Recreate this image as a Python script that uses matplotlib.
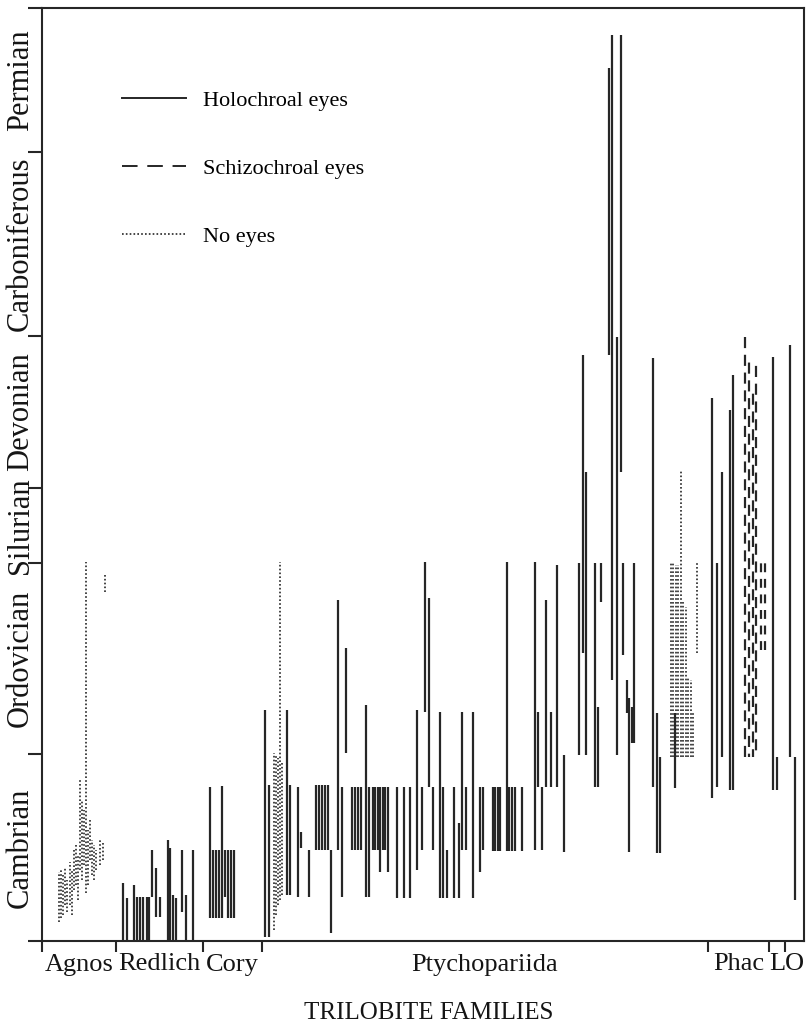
import matplotlib
matplotlib.use("Agg")
import matplotlib.pyplot as plt
from matplotlib.lines import Line2D

# Stratigraphic scale: height units above the base of the Cambrian
PERIODS = ["Cambrian", "Ordovician", "Silurian", "Devonian", "Carboniferous", "Permian"]
PERIOD_BOUNDS = [0, 187, 378, 453, 605, 789, 933]

# Family groups along the horizontal axis (column positions)
GROUPS = ["Agnos", "Redlich", "Cory", "Ptychopariida", "Phac", "L", "O"]
GROUP_BOUNDS = [0, 74, 161, 220, 666, 727, 743, 762]

# Families with holochroal eyes: column, first occurrence, last occurrence
holo_x = [
    # Redlichiida
    81, 85, 92, 95, 98, 101, 105, 107, 110, 114, 118, 126, 128, 131, 134, 140, 144, 151,
    # Corynexochida
    168, 171, 174, 177, 180, 183, 186, 189, 192,
    # Ptychopariida
    223, 227, 245, 248, 256, 259, 267, 274, 276.5, 279.5, 283, 285.5, 289, 296, 299.5,
    304, 310, 313, 316, 319, 324, 327, 330.5, 333, 335.5, 338, 340.5, 343, 345.5,
    354.5, 361.5, 368, 374.7, 379.7, 383, 387, 391, 397.5, 401.3, 405.3, 412, 416.7,
    420.3, 423.7, 430.5, 438, 441.3, 450.5, 453, 455.5, 458, 464.7, 467.3, 470, 472.5,
    479.7, 493, 496.3, 500.3, 503.5, 508.7, 514.7, 522, 537.3, 541, 544, 553, 555.5,
    559, 567.3, 569.5, 575, 578.7, 581, 584.7, 587.3, 589.7, 591.5, 611.3, 614.7, 618,
    633,
    # Phacopida
    669.7, 674.7, 679.7, 688, 691.3,
    # Lichida
    731.3, 734.7,
    # Odontopleurida
    748, 753,
]
holo_base = [
    0, 0, 0, 0, 0, 0, 0, 0, 44, 24, 24, 0, 0, 0, 0, 29, 0, 0,
    23, 23, 23, 23, 23, 44, 23, 23, 23,
    4, 4, 46, 46, 44, 93, 44, 91, 91, 91, 91, 91, 8, 91, 44,
    188, 91, 91, 91, 91, 44, 44, 91, 91, 91, 69, 91, 91, 69,
    43, 43, 43, 71, 91, 229, 154, 91, 43, 43, 43, 43, 43,
    91, 91, 43, 69, 91, 90, 90, 90, 90, 90, 90, 90, 90,
    90, 91, 154, 91, 154, 154, 154, 89, 186, 288, 186, 154, 154,
    339, 586, 261, 186, 469, 286, 228, 89, 198, 198, 154, 88, 88,
    153,
    143, 154, 184, 151, 151,
    151, 151,
    184, 41,
]
holo_top = [
    58, 43, 56, 44, 44, 44, 44, 44, 91, 73, 44, 101, 93, 46, 43, 91, 46, 91,
    154, 91, 91, 91, 155, 91, 91, 91, 91,
    231, 156, 231, 156, 154, 109, 91, 156, 156, 156, 156, 156, 91, 341, 154,
    293, 154, 154, 154, 154, 236, 154, 154, 154, 154, 154, 154, 154, 154,
    154, 154, 154, 231, 154, 379, 343, 154, 229, 154, 91, 154, 118,
    229, 154, 229, 154, 154, 154, 154, 154, 154, 379, 154, 154, 154,
    154, 379, 229, 154, 341, 229, 376, 186, 378, 586, 469, 378, 234,
    378, 873, 906, 604, 906, 378, 261, 243, 234, 378, 583, 228, 184,
    228,
    543, 378, 469, 531, 566,
    584, 184,
    596, 184,
]

# Families with schizochroal eyes (Phacopida)
schizo_x = [703, 706.5, 711, 714, 719, 722.5]
schizo_base = [184, 184, 184, 184, 291, 291]
schizo_top = [604, 579, 551, 579, 378, 378]

# Blind families
blind_x = [
    # Agnostida
    17, 19, 21, 23, 25, 28, 30, 32, 34, 36, 38, 40, 42, 44, 46, 48, 50, 52, 54, 58, 61, 63,
    # Ptychopariida
    232, 234, 236, 238, 240,
    628.7, 631.3, 634, 636.3, 639, 641.3, 643.7, 646.3, 648.7, 650.7, 654.7,
]
blind_base = [
    19, 23, 26, 36, 29, 36, 26, 51, 56, 41, 71, 61, 76, 48, 56, 81, 66, 61, 71, 76, 81, 349,
    11, 26, 36, 41, 46,
    184, 184, 184, 184, 184, 184, 184, 184, 184, 184, 288,
]
blind_top = [
    69, 71, 66, 73, 61, 79, 71, 91, 96, 86, 161, 141, 131, 379, 111, 121, 101, 96, 91, 101, 99, 366,
    188, 186, 183, 379, 179,
    378, 378, 376, 376, 471, 339, 334, 263, 261, 228, 379,
]

INK = "#262626"
SERIF = "Liberation Serif"
plt.rcParams["font.family"] = SERIF

fig = plt.figure(figsize=(8.06, 10.27), dpi=100)
ax = fig.add_axes([42 / 806, 86 / 1027, 762 / 806, 933 / 1027])

ax.vlines(holo_x, holo_base, holo_top, colors=INK, linewidth=1.6,
          linestyles="solid", capstyle="butt")
# staggered dash phases so neighbouring columns do not line up
dash_styles = [(0, (5, 3)), (3.5, (5, 3)), (1.5, (5, 3)), (5, (5, 3)), (0, (4, 3)), (0, (4, 3))]
ax.vlines(schizo_x, schizo_base, schizo_top, colors=INK, linewidth=1.6,
          linestyles=dash_styles)
ax.vlines(blind_x, blind_base, blind_top, colors=INK, linewidth=1.2,
          linestyles=[(0, (1, 1.3))])

ax.set_xlim(GROUP_BOUNDS[0], GROUP_BOUNDS[-1])
ax.set_ylim(PERIOD_BOUNDS[0], PERIOD_BOUNDS[-1])

for side in ax.spines.values():
    side.set_linewidth(1.5)
    side.set_color(INK)

# Period boundaries as outward ticks, names centred in each interval
ax.set_yticks(PERIOD_BOUNDS)
ax.set_yticklabels([])
ax.set_yticks([(a + b) / 2 for a, b in zip(PERIOD_BOUNDS[:-1], PERIOD_BOUNDS[1:])], minor=True)
ax.set_yticklabels(PERIODS, minor=True, rotation=90, va="center", fontsize=22,
                   color="#151515")
ax.tick_params(axis="y", which="major", direction="out", length=10, width=1.5, color=INK)
ax.tick_params(axis="y", which="minor", length=0, pad=5)

# Group boundaries as ticks below the axis, group names between them
ax.set_xticks(GROUP_BOUNDS[:-1])
ax.set_xticklabels([])
ax.set_xticks([(a + b) / 2 for a, b in zip(GROUP_BOUNDS[:-1], GROUP_BOUNDS[1:])], minor=True)
ax.set_xticklabels(GROUPS, minor=True, fontsize=19, color="#151515")
ax.tick_params(axis="x", which="major", direction="out", length=8, width=1.5, color=INK)
ax.tick_params(axis="x", which="minor", length=0, pad=9)

fig.text(429 / 806, 1 - 1013 / 1027, "TRILOBITE FAMILIES", ha="center", va="center",
         fontsize=18, color="#151515")

handles = [
    Line2D([], [], color=INK, linewidth=1.4, linestyle="solid"),
    Line2D([], [], color=INK, linewidth=1.4, linestyle=(0, (8, 5))),
    Line2D([], [], color=INK, linewidth=1.2, linestyle=(0, (1, 1.3))),
]
ax.legend(handles, ["Holochroal eyes", "Schizochroal eyes", "No eyes"],
          loc="upper left", bbox_to_anchor=(122 / 806, 1 - 90 / 1027),
          bbox_transform=fig.transFigure, frameon=False, fontsize=16,
          handlelength=2.9, handletextpad=0.75, labelspacing=2.15,
          borderpad=0, borderaxespad=0)

fig.savefig("out.png", dpi=100, facecolor="white")
